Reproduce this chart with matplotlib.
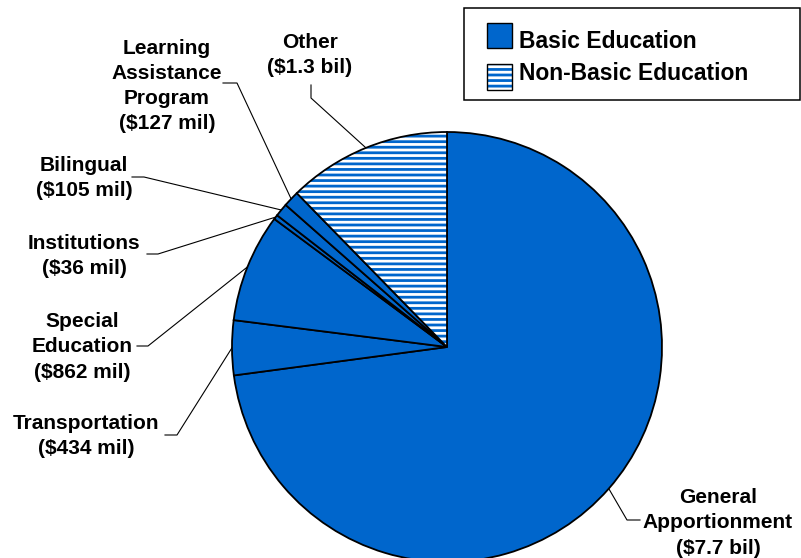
import matplotlib
matplotlib.use('Agg')
import matplotlib.pyplot as plt
import numpy as np
from matplotlib.patches import Rectangle, Wedge

W, H = 801, 558
BLUE = '#0066CC'

# K-12 funding components, $ millions, clockwise from 12 o'clock
names = ['General\nApportionment', 'Transportation', 'Special\nEducation',
         'Institutions', 'Bilingual', 'Learning\nAssistance\nProgram', 'Other']
values_mil = [7700, 434, 862, 36, 105, 127, 1300]
amounts = ['$7.7 bil', '$434 mil', '$862 mil', '$36 mil', '$105 mil', '$127 mil', '$1.3 bil']
basic = [True, True, True, True, True, True, False]

# label centres and leader elbows in pixel coords (y down from top)
label_xy = [(718, 523), (86, 436), (82, 347), (84, 256), (84, 178), (167, 86), (310, 55)]
leader_pts = [[(640, 520), (627, 520)], [(165, 435), (177, 435)], [(137, 346), (148, 346)],
              [(147, 254), (158, 254)], [(132, 177), (144, 177)], [(223, 83), (237, 83)],
              [(311, 85), (311, 98)]]

plt.rcParams['font.family'] = ['Liberation Sans', 'DejaVu Sans']
plt.rcParams['font.weight'] = 'bold'
plt.rcParams['hatch.linewidth'] = 2.0

fig = plt.figure(figsize=(W / 100, H / 100), dpi=100)
ax = fig.add_axes([0, 0, 1, 1])

def fy(y):
    return H - y

cx, cy, R = 447, fy(347), 215
wedges, _ = ax.pie(values_mil, startangle=90, counterclock=False,
                   center=(cx, cy), radius=R, frame=True,
                   colors=[BLUE if b else 'white' for b in basic],
                   wedgeprops=dict(edgecolor='black', linewidth=1.3))

for w, b in zip(wedges, basic):
    if not b:
        # hatch takes the edge colour, so stripe in blue and outline separately
        w.set_edgecolor(BLUE)
        w.set_linewidth(0)
        w.set_hatch('---')
        ax.add_patch(Wedge(w.center, w.r, w.theta1, w.theta2, fill=False,
                           edgecolor='black', linewidth=1.3, zorder=w.get_zorder() + 0.1))

for w, name, amt, (tx, ty), pts in zip(wedges, names, amounts, label_xy, leader_pts):
    ax.text(tx, fy(ty), f'{name}\n({amt})', ha='center', va='center',
            fontsize=15, fontweight='bold', linespacing=1.42)
    mid = np.deg2rad((w.theta1 + w.theta2) / 2)
    ex, ey = cx + R * np.cos(mid), cy + R * np.sin(mid)
    xs = [p[0] for p in pts] + [ex]
    ys = [fy(p[1]) for p in pts] + [ey]
    ax.plot(xs, ys, color='black', linewidth=0.8, zorder=0.5)

# legend box
ax.add_patch(Rectangle((464, fy(100)), 336, 92, facecolor='white', edgecolor='black',
                       linewidth=1.1, zorder=5))
ax.add_patch(Rectangle((487, fy(48)), 25, 25, facecolor=BLUE, edgecolor='black',
                       linewidth=1.0, zorder=6))
ax.add_patch(Rectangle((487, fy(90)), 25, 26, facecolor='white', edgecolor=BLUE,
                       linewidth=0, hatch='---', zorder=6))
ax.add_patch(Rectangle((487, fy(90)), 25, 26, fill=False, edgecolor='black',
                       linewidth=1.0, zorder=6.1))
ax.text(519, fy(42), 'Basic Education', ha='left', va='center', fontsize=16.5,
        fontweight='bold', zorder=7)
ax.text(519, fy(73), 'Non-Basic Education', ha='left', va='center', fontsize=16.5,
        fontweight='bold', zorder=7)

ax.set_xlim(0, W)
ax.set_ylim(0, H)
ax.set_aspect('equal')
ax.axis('off')

fig.savefig('out.png', dpi=100, facecolor='white')
